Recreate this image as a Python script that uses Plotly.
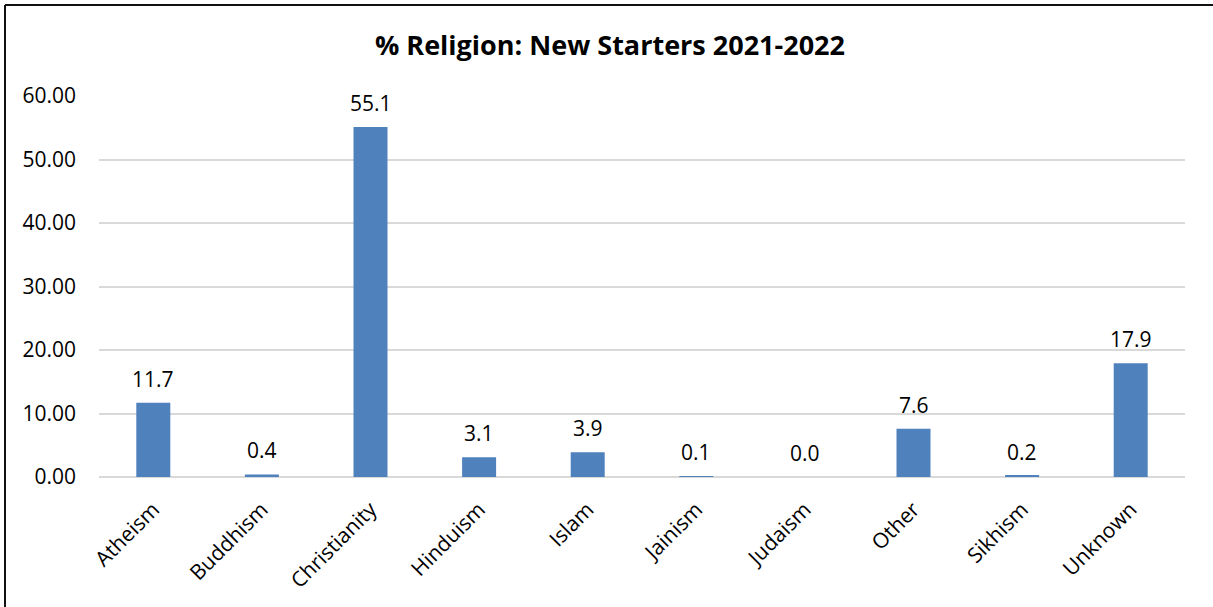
import plotly.graph_objects as go

# Share of new starters by religion, 2021-2022 (%)
categories = ["Atheism", "Buddhism", "Christianity", "Hinduism", "Islam",
              "Jainism", "Judaism", "Other", "Sikhism", "Unknown"]
percent = [11.7, 0.4, 55.1, 3.1, 3.9, 0.1, 0.0, 7.6, 0.2, 17.9]
y_ticks = [0, 10, 20, 30, 40, 50, 60]
y_tick_labels = ["0.00", "10.00", "20.00", "30.00", "40.00", "50.00", "60.00"]

W, H = 1213, 607
ML, MR, MT, MB = 99, 28, 96, 130
PW, PH = W - ML - MR, H - MT - MB

FONT = "Open Sans"
BAR = "#4F81BD"
GRID = "#D9D9D9"


def px_x(x):
    return (x - ML) / PW


def px_y(y):
    return (H - MB - y) / PH


fig = go.Figure()
fig.add_trace(go.Bar(
    x=categories,
    y=percent,
    marker=dict(color=BAR, line=dict(width=0)),
    hoverinfo="x+y",
))

# value labels above each bar
for cat, val in zip(categories, percent):
    fig.add_annotation(
        x=cat, y=val, text=f"{val:.1f}",
        showarrow=False, yanchor="bottom", yshift=8,
        font=dict(family=FONT, size=21, color="#000000"),
    )

# chart frame (top and left edges)
frame = dict(color="#111111", width=2)
fig.add_shape(type="line", xref="paper", yref="paper",
              x0=px_x(5), x1=px_x(W + 5), y0=px_y(5), y1=px_y(5), line=frame)
fig.add_shape(type="line", xref="paper", yref="paper",
              x0=px_x(5), x1=px_x(5), y0=px_y(5), y1=px_y(H + 5), line=frame)

fig.update_layout(
    width=W, height=H,
    margin=dict(l=ML, r=MR, t=MT, b=MB, autoexpand=False),
    paper_bgcolor="white", plot_bgcolor="white",
    bargap=0.687,
    showlegend=False,
    font=dict(family=FONT, size=21, color="#000000"),
    title=dict(
        text="<b>% Religion: New Starters 2021-2022</b>",
        x=610 / W, xref="container", xanchor="center",
        y=1 - 46 / H, yref="container", yanchor="middle",
        font=dict(family=FONT, size=27, color="#000000"),
    ),
    xaxis=dict(
        tickangle=-45,
        showgrid=False, zeroline=False, showline=False,
        ticks="", ticklabelstandoff=15,
        tickfont=dict(family=FONT, size=21),
    ),
    yaxis=dict(
        range=[0, 60],
        tickvals=y_ticks, ticktext=y_tick_labels,
        showgrid=True, gridcolor=GRID, gridwidth=2,
        zeroline=True, zerolinecolor=GRID, zerolinewidth=2,
        showline=False, ticks="",
        ticklabelstandoff=22,
        tickfont=dict(family=FONT, size=21),
    ),
)

fig.write_html("out.html")
